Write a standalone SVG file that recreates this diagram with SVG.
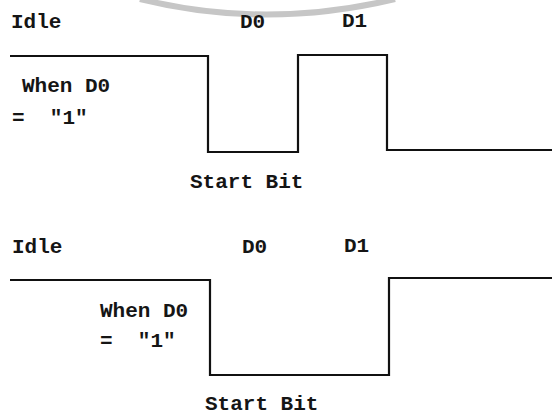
<svg xmlns="http://www.w3.org/2000/svg" width="552" height="417" viewBox="0 0 552 417">
<style>
text{font-family:"Liberation Mono","DejaVu Sans Mono",monospace;font-weight:bold;font-size:21px;fill:#151515;white-space:pre}
.wave{fill:none;stroke:#111;stroke-width:2.2;stroke-linejoin:miter}
.arc{fill:none;stroke:#c6c6c6;stroke-width:6}
</style>
<rect width="552" height="417" fill="#fff"/>
<path class="arc" d="M140 -1 Q265 30 395 -1"/>
<g id="connectors">
<path id="wave-top" class="wave" d="M10 56 H208 V152 H298 V55 H387 V150 H552"/>
<path id="wave-bottom" class="wave" d="M10 280 H210 V375 H389 V278 H552"/>
</g>
<g id="top-labels">
<text id="t-idle" x="11" y="28">Idle</text>
<text id="t-d0" x="240" y="28">D0</text>
<text id="t-d1" x="342" y="27">D1</text>
<text id="t-when" x="22" y="92">When D0</text>
<text id="t-eq" x="12" y="124">=  "1"</text>
<text id="t-start" x="190" y="188">Start Bit</text>
</g>
<g id="bottom-labels">
<text id="b-idle" x="12" y="253">Idle</text>
<text id="b-d0" x="242" y="253">D0</text>
<text id="b-d1" x="344" y="252">D1</text>
<text id="b-when" x="100" y="317">When D0</text>
<text id="b-eq" x="100" y="347">=  "1"</text>
<text id="b-start" x="205" y="410">Start Bit</text>
</g>
</svg>
